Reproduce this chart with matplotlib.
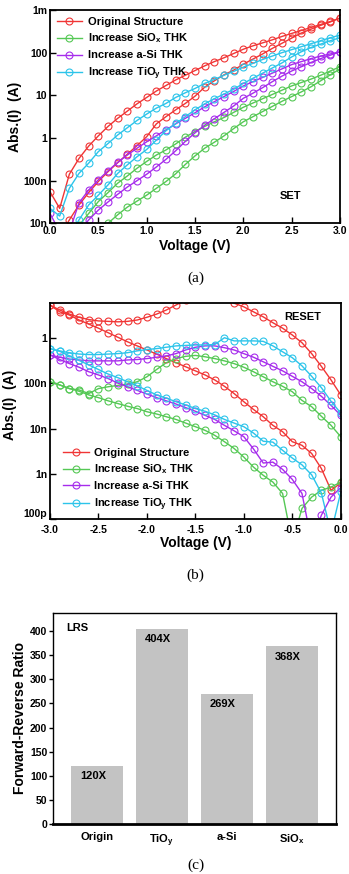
import numpy as np
import matplotlib
matplotlib.use("Agg")
import matplotlib.pyplot as plt
from matplotlib.ticker import NullLocator

plt.rcParams['font.family'] = ['Liberation Sans', 'DejaVu Sans']
plt.rcParams['font.weight'] = 'bold'
plt.rcParams['mathtext.fontset'] = 'custom'
plt.rcParams['mathtext.bf'] = 'Liberation Sans:bold'
plt.rcParams['mathtext.rm'] = 'Liberation Sans:bold'
plt.rcParams['mathtext.it'] = 'Liberation Sans:bold'
plt.rcParams['mathtext.default'] = 'bf'

# ---- data (currents stored as log10 of |I| in A) ----
v_set = np.round(np.arange(0.0, 3.05, 0.1), 1)      # 0.0 ... 3.0
v_reset = np.round(np.arange(-3.0, 0.05, 0.1), 1)   # -3.0 ... 0.0

series_labels = ['Original Structure', 'Increase SiO$_x$ THK',
                 'Increase a-Si THK', 'Increase TiO$_y$ THK']
series_colors = ['#f03535', '#55c855', '#a62cec', '#2cc4ea']

# SET sweep, two branches each (shorter branches end at 3.0 V)
set_orig_a = [-7.26, -7.65, -6.85, -6.48, -6.19, -5.95, -5.73, -5.54, -5.37, -5.20, -5.05,
              -4.90, -4.77, -4.64, -4.53, -4.42, -4.31, -4.21, -4.12, -4.02, -3.92,
              -3.84, -3.77, -3.70, -3.62, -3.55, -3.48, -3.41, -3.34, -3.27, -3.19]
set_orig_b = [-8.30, -7.92, -7.57, -7.28, -7.02, -6.79, -6.58, -6.38, -6.18, -5.97,
              -5.67, -5.50, -5.34, -5.19, -5.02, -4.81, -4.66, -4.52, -4.41, -4.27,
              -4.15, -4.03, -3.90, -3.78, -3.66, -3.54, -3.45, -3.36, -3.28, -3.19]
set_sio_a = [-8.05, -7.77, -7.49, -7.28, -7.06, -6.89, -6.71, -6.55,
             -6.40, -6.28, -6.14, -5.98, -5.85, -5.73, -5.62, -5.52, -5.40, -5.28,
             -5.18, -5.08, -4.98, -4.88, -4.78, -4.70, -4.62, -4.53, -4.43, -4.33]
set_sio_b = [-8.20, -8.00, -7.80, -7.62, -7.48, -7.34,
             -7.18, -7.02, -6.84, -6.62, -6.42, -6.24, -6.10, -5.95, -5.78, -5.62,
             -5.50, -5.38, -5.26, -5.14, -5.03, -4.92, -4.80, -4.66, -4.52, -4.38]
set_asi_a = [-7.77, -8.20, -8.20, -7.52, -7.22, -6.98, -6.77, -6.57, -6.40, -6.24, -6.09,
             -5.95, -5.81, -5.67, -5.54, -5.41, -5.27, -5.15, -5.03, -4.91, -4.78,
             -4.68, -4.58, -4.48, -4.38, -4.28, -4.21, -4.14, -4.08, -4.03, -3.98]
set_asi_b = [-8.20, -7.92, -7.69, -7.50, -7.32, -7.15, -7.00, -6.85,
             -6.68, -6.50, -6.30, -6.08, -5.88, -5.70, -5.55, -5.40, -5.25, -5.07,
             -4.95, -4.82, -4.68, -4.55, -4.43, -4.33, -4.23, -4.14, -4.06, -3.98]
set_tio_a = [-7.65, -7.83, -7.18, -6.83, -6.59, -6.32, -6.13, -5.93, -5.76, -5.59, -5.44,
             -5.30, -5.19, -5.05, -4.94, -4.84, -4.72, -4.63, -4.53, -4.44, -4.34,
             -4.25, -4.16, -4.08, -4.00, -3.93, -3.86, -3.79, -3.72, -3.65, -3.59]
set_tio_b = [-8.30, -7.92, -7.57, -7.34, -7.10, -6.83, -6.63, -6.44, -6.27,
             -6.05, -5.83, -5.66, -5.50, -5.34, -5.20, -5.08, -4.97, -4.86, -4.72,
             -4.60, -4.48, -4.36, -4.24, -4.10, -3.98, -3.88, -3.80, -3.72, -3.65]

# RESET sweep, -3.0 ... 0.0 V
reset_orig_a = [-5.28, -5.39, -5.48, -5.55, -5.60, -5.63, -5.64, -5.65, -5.64, -5.61, -5.55,
                -5.48, -5.39, -5.28, -5.17, -5.07, -5.00, -4.97, -5.12, -5.24, -5.32,
                -5.43, -5.54, -5.67, -5.79, -5.94, -6.11, -6.35, -6.63, -6.93, -7.26]
reset_orig_b = [-5.28, -5.43, -5.50, -5.61, -5.70, -5.79, -5.89, -5.99, -6.09, -6.18, -6.27,
                -6.36, -6.46, -6.55, -6.64, -6.73, -6.82, -6.93, -7.07, -7.23, -7.41,
                -7.58, -7.74, -7.93, -8.07, -8.29, -8.37, -8.55, -8.88, -9.36, -9.20]
reset_sio_a = [-6.97, -7.04, -7.12, -7.15, -7.23, -7.12, -7.08, -7.05, -7.02, -6.97, -6.86,
               -6.70, -6.55, -6.46, -6.41, -6.39, -6.42, -6.46, -6.51, -6.57, -6.65,
               -6.75, -6.86, -6.97, -7.07, -7.19, -7.38, -7.52, -7.73, -7.93, -8.18]
reset_sio_b = [-6.97, -7.04, -7.12, -7.18, -7.26, -7.32, -7.39, -7.45, -7.51, -7.56, -7.63,
               -7.68, -7.74, -7.80, -7.88, -7.96, -8.04, -8.15, -8.29, -8.44, -8.63,
               -8.85, -9.03, -9.18, -9.43, -10.5, -9.76, -9.51, -9.36, -9.29, -9.18]
reset_asi_a = [-6.38, -6.43, -6.47, -6.49, -6.51, -6.51, -6.51, -6.51, -6.49, -6.48, -6.46,
               -6.43, -6.40, -6.35, -6.27, -6.21, -6.18, -6.18, -6.22, -6.27, -6.35,
               -6.43, -6.53, -6.63, -6.73, -6.85, -6.97, -7.12, -7.29, -7.49, -7.71]
reset_asi_b = [-6.38, -6.48, -6.57, -6.65, -6.75, -6.82, -6.90, -7.00, -7.08, -7.16, -7.24,
               -7.32, -7.39, -7.46, -7.54, -7.62, -7.71, -7.80, -7.93, -8.05, -8.18,
               -8.45, -8.76, -8.74, -8.90, -9.12, -9.43, -10.5, -9.91, -9.51, -9.30]
reset_tio_a = [-6.24, -6.29, -6.33, -6.36, -6.37, -6.37, -6.36, -6.35, -6.33, -6.29, -6.26,
               -6.24, -6.21, -6.18, -6.17, -6.16, -6.16, -6.15, -6.00, -6.07, -6.07,
               -6.07, -6.08, -6.18, -6.31, -6.44, -6.62, -6.85, -7.10, -7.40, -7.66]
reset_tio_b = [-6.24, -6.30, -6.40, -6.50, -6.60, -6.70, -6.80, -6.88, -6.97, -7.06, -7.16,
               -7.26, -7.33, -7.41, -7.48, -7.56, -7.62, -7.70, -7.80, -7.88, -7.96,
               -8.10, -8.28, -8.30, -8.48, -8.65, -8.80, -9.02, -9.42, -10.3, -9.40]

# LRS forward/reverse ratio
ratio_names = ['Origin', 'TiO$_y$', 'a-Si', 'SiO$_x$']
ratio_values = [120, 404, 269, 368]


def draw_pair(ax, v, branch_a, branch_b, color, label):
    style = dict(color=color, marker='o', mfc='none', ms=5, mew=0.8, lw=1.0)
    ax.plot(v[-len(branch_a):], 10.0 ** np.array(branch_a), label=label, **style)
    ax.plot(v[-len(branch_b):], 10.0 ** np.array(branch_b), **style)


def style_iv_axes(ax):
    ax.set_yscale('log')
    ax.yaxis.set_minor_locator(NullLocator())
    ax.tick_params(direction='in', length=4, width=1, labelsize=7.5, pad=2)
    for s in ax.spines.values():
        s.set_linewidth(1.3)
    ax.set_xlabel('Voltage (V)', fontsize=10, fontweight='bold', labelpad=2)
    ax.set_ylabel('Abs.(I)  (A)', fontsize=10, fontweight='bold')


fig = plt.figure(figsize=(3.49, 8.74), dpi=100)

# ---------------- (a) SET ----------------
ax1 = fig.add_axes([0.1433, 0.7445, 0.831, 0.2441])
set_data = [(set_orig_a, set_orig_b), (set_sio_a, set_sio_b),
            (set_asi_a, set_asi_b), (set_tio_a, set_tio_b)]
for (ba, bb), c, lbl in zip(set_data, series_colors, series_labels):
    draw_pair(ax1, v_set, ba, bb, c, lbl)
style_iv_axes(ax1)
ax1.set_xlim(0, 3)
ax1.set_ylim(1e-8, 1e-3)
ax1.set_xticks([0, 0.5, 1.0, 1.5, 2.0, 2.5, 3.0])
ax1.set_xticklabels(['0.0', '0.5', '1.0', '1.5', '2.0', '2.5', '3.0'])
ax1.set_yticks([1e-8, 1e-7, 1e-6, 1e-5, 1e-4, 1e-3])
ax1.set_yticklabels(['10n', '100n', '1', '10', '100', '1m'])
ax1.yaxis.set_label_coords(-0.095, 0.5)
ax1.text(0.83, 0.13, 'SET', transform=ax1.transAxes, fontsize=8, ha='center', va='center')
ax1.legend(loc='upper left', bbox_to_anchor=(0.0, 1.0), frameon=False, fontsize=8,
           handlelength=2.3, handletextpad=0.5, labelspacing=0.45, borderaxespad=0.2)

# ---------------- (b) RESET ----------------
ax2 = fig.add_axes([0.1433, 0.4058, 0.833, 0.2478])
reset_data = [(reset_orig_a, reset_orig_b), (reset_sio_a, reset_sio_b),
              (reset_asi_a, reset_asi_b), (reset_tio_a, reset_tio_b)]
for (ba, bb), c, lbl in zip(reset_data, series_colors, series_labels):
    draw_pair(ax2, v_reset, ba, bb, c, lbl)
style_iv_axes(ax2)
ax2.tick_params(axis='x', pad=4)
ax2.xaxis.labelpad = 1
ax2.set_xlim(-3, 0)
ax2.set_ylim(1e-10, 10 ** -5.23)
ax2.set_xticks([-3.0, -2.5, -2.0, -1.5, -1.0, -0.5, 0.0])
ax2.set_xticklabels(['-3.0', '-2.5', '-2.0', '-1.5', '-1.0', '-0.5', '0.0'])
ax2.set_yticks([1e-10, 1e-9, 1e-8, 1e-7, 1e-6])
ax2.set_yticklabels(['100p', '1n', '10n', '100n', '1'])
ax2.get_yticklabels()[0].set_va('bottom')
ax2.yaxis.set_label_coords(-0.115, 0.53)
ax2.text(0.87, 0.935, 'RESET', transform=ax2.transAxes, fontsize=8, ha='center', va='center')
ax2.legend(loc='lower left', bbox_to_anchor=(0.03, 0.01), frameon=False, fontsize=8,
           handlelength=2.3, handletextpad=0.5, labelspacing=0.45, borderaxespad=0.0)

# ---------------- (c) ratio bars ----------------
ax3 = fig.add_axes([0.151, 0.0572, 0.8117, 0.2418])
xpos = np.arange(1, len(ratio_values) + 1)
ax3.bar(xpos, ratio_values, width=0.8, color='#c3c3c3')
for x, r in zip(xpos, ratio_values):
    ax3.text(x - 0.06, r - 21, f'{r}X', ha='center', va='center', fontsize=8)
ax3.set_xlim(0.32, 4.68)
ax3.set_ylim(0, 438)
ax3.set_yticks(np.arange(0, 401, 50))
ax3.set_xticks(xpos)
ax3.set_xticklabels(ratio_names)
ax3.tick_params(axis='x', length=0, labelsize=8, pad=6)
ax3.tick_params(axis='y', direction='out', length=3, width=1, labelsize=7.5, pad=1)
for s in ax3.spines.values():
    s.set_linewidth(1.0)
ax3.spines['bottom'].set_linewidth(2.0)
ax3.set_ylabel('Forward-Reverse Ratio', fontsize=10, fontweight='bold')
ax3.yaxis.set_label_coords(-0.09, 0.5)
ax3.text(0.7, 407, 'LRS', fontsize=8, ha='center', va='center')

# captions
for y, cap in [(1 - 278 / 874, '(a)'), (1 - 575 / 874, '(b)'), (1 - 865 / 874, '(c)')]:
    fig.text(0.56, y, cap, family='Liberation Serif', fontweight='normal',
             fontsize=11, ha='center', va='center')

fig.savefig('out.png', dpi=100)
